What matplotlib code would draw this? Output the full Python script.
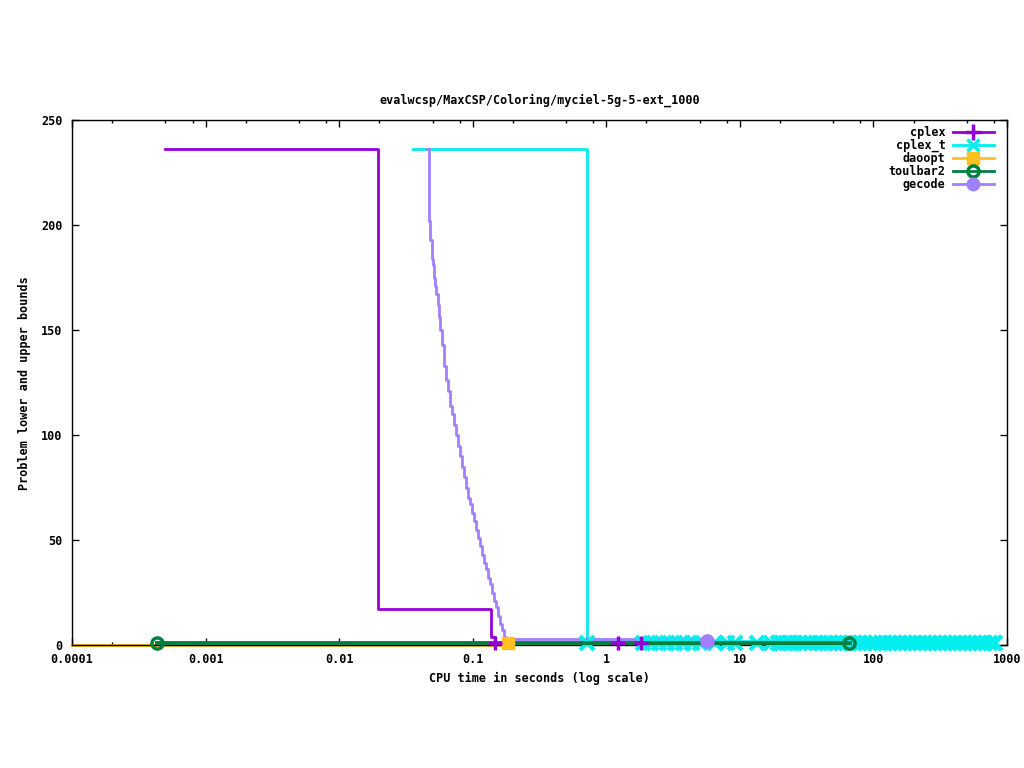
import matplotlib
matplotlib.use("Agg")
import matplotlib.pyplot as plt
import numpy as np
from matplotlib.ticker import LogLocator, FixedLocator, NullFormatter

# ---------------- data ----------------
title = "evalwcsp/MaxCSP/Coloring/myciel-5g-5-ext_1000"
xlabel = "CPU time in seconds (log scale)"
ylabel = "Problem lower and upper bounds"

x_ticks = [0.0001, 0.001, 0.01, 0.1, 1, 10, 100, 1000]
x_tick_labels = ["0.0001", "0.001", "0.01", "0.1", "1", "10", "100", "1000"]
y_ticks = [0, 50, 100, 150, 200, 250]

# cplex upper bound (step) and marked points
cplex_t = [0.0005, 0.0195, 0.0197, 0.137, 0.1466, 1.82]
cplex_v = [236, 18, 17, 4, 1, 1]
cplex_mark_t = [0.1466, 1.22, 1.82]
cplex_mark_v = [1, 1, 1]

# cplex_t upper bound (step) and lower-bound marks
cplex_t_t = [0.0356, 0.716, 820]
cplex_t_v = [236, 2, 2]
cplex_t_mark_t = [0.716, 1.88, 2.16, 2.48, 2.84, 3.26, 3.74, 4.37, 5.02, 6.5, 8.0,
                  9.18, 13.4, 17.1, 19.2, 20, 22, 24, 26, 28, 31, 34, 37, 40, 44,
                  48, 52, 57, 62, 67, 73, 80, 87, 95, 103, 113, 123, 134, 146, 159,
                  173, 189, 206, 225, 245, 267, 291, 317, 346, 377, 411, 448, 488,
                  532, 580, 632, 689, 751, 800, 820]
cplex_t_mark_value = 1

# daoopt
daoopt_t = [0.0001, 0.183]
daoopt_v = [0, 1]

# toulbar2
toulbar2_t = [0.000433, 65.5]
toulbar2_v = [1, 1]

# gecode
gecode_t = [0.04566, 0.04700, 0.04806, 0.04924, 0.05035, 0.05123, 0.05212, 0.05303,
            0.05461, 0.05585, 0.05681, 0.05883, 0.06088, 0.06302, 0.06524, 0.06751,
            0.06988, 0.07234, 0.07487, 0.07749, 0.08021, 0.08303, 0.08594, 0.08896,
            0.09207, 0.09529, 0.09863, 0.1021, 0.1057, 0.1094, 0.1132, 0.1172,
            0.1213, 0.1256, 0.1300, 0.1345, 0.1392, 0.1441, 0.1492, 0.1544, 0.1598,
            0.1654, 0.1712, 0.1772, 0.1834, 5.66]
gecode_v = [236, 202, 193, 184, 181, 175, 171, 167, 162, 156, 150, 143, 133, 126,
            121, 114, 110, 105, 100, 95, 90, 85, 80, 75, 70, 67, 63, 59, 55, 51,
            47, 43, 39, 36, 32, 29, 25, 21, 18, 14, 10, 7, 4, 3, 3, 2]

# ---------------- style ----------------
C_CPLEX = "#9400D3"
C_CPLEXT = "#00EEEE"
C_DAOOPT = "#FFC020"
C_TB2 = "#008040"
C_GECODE = "#A080FF"

FONT = {"family": "DejaVu Sans Mono", "weight": "bold", "size": 8.5}
plt.rcParams["font.family"] = "DejaVu Sans Mono"
plt.rcParams["font.weight"] = "bold"
plt.rcParams["font.size"] = 8.5

fig = plt.figure(figsize=(10.24, 7.68), dpi=100)
ax = fig.add_axes([72 / 1024, (768 - 645) / 768, 935 / 1024, 525 / 768])

LW = 2.0

# cplex
ax.step(cplex_t, cplex_v, where="post", color=C_CPLEX, lw=LW, zorder=2)
ax.plot(cplex_mark_t, cplex_mark_v, ls="none", marker="+", ms=10, mew=2.5,
        color=C_CPLEX, clip_on=False, zorder=6)
# cplex_t
ax.step(cplex_t_t, cplex_t_v, where="post", color=C_CPLEXT, lw=LW, zorder=2)
ax.plot(cplex_t_mark_t, np.full(len(cplex_t_mark_t), cplex_t_mark_value), ls="none",
        marker="x", ms=9.5, mew=3, color=C_CPLEXT, clip_on=False, zorder=3)
# daoopt
ax.step(daoopt_t, daoopt_v, where="post", color=C_DAOOPT, lw=LW, clip_on=False, zorder=2)
ax.plot(daoopt_t[-1:], daoopt_v[-1:], ls="none", marker="s", ms=9, color=C_DAOOPT,
        clip_on=False, zorder=5)
# toulbar2
ax.step(toulbar2_t, toulbar2_v, where="post", color=C_TB2, lw=3.5, zorder=4)
ax.plot(toulbar2_t, toulbar2_v, ls="none", marker="o", ms=8, mew=2.5, mfc="none",
        color=C_TB2, clip_on=False, zorder=5)
# gecode
ax.step(gecode_t, gecode_v, where="post", color=C_GECODE, lw=LW, zorder=2.2)
ax.plot(gecode_t[-1:], gecode_v[-1:], ls="none", marker="o", ms=9.5, color=C_GECODE,
        clip_on=False, zorder=6)

# legend proxies
handles = [
    plt.Line2D([], [], color=C_CPLEX, lw=LW, marker="+", ms=11, mew=2.5),
    plt.Line2D([], [], color=C_CPLEXT, lw=LW, marker="x", ms=9, mew=2.5),
    plt.Line2D([], [], color=C_DAOOPT, lw=LW, marker="s", ms=9),
    plt.Line2D([], [], color=C_TB2, lw=LW, marker="o", ms=8, mew=2.5, mfc="none"),
    plt.Line2D([], [], color=C_GECODE, lw=LW, marker="o", ms=9),
]
labels = ["cplex", "cplex_t", "daoopt", "toulbar2", "gecode"]
leg = ax.legend(handles, labels, loc="upper right", bbox_to_anchor=(0.986, 0.989),
                frameon=False, markerfirst=False, numpoints=1, handlelength=3.5,
                handletextpad=0.6, labelspacing=0.0, borderpad=0, borderaxespad=0,
                prop=FONT)

ax.set_xscale("log")
ax.set_xlim(1e-4, 1e3)
ax.set_ylim(0, 250)
ax.xaxis.set_major_locator(FixedLocator(x_ticks))
ax.set_xticks(x_ticks)
ax.set_xticklabels(x_tick_labels)
ax.xaxis.set_minor_locator(LogLocator(base=10, subs=(2, 5, 8)))
ax.xaxis.set_minor_formatter(NullFormatter())
ax.set_yticks(y_ticks)
ax.set_yticklabels([str(v) for v in y_ticks])

ax.tick_params(which="major", direction="in", length=5, width=1, top=True, right=True,
               labelsize=8.5, pad=6)
ax.tick_params(which="minor", direction="in", length=2.5, width=1, top=True, right=True)
ax.tick_params(axis="y", pad=7)
for s in ax.spines.values():
    s.set_linewidth(1)
    s.set_color("black")

fig.text(539.5 / 1024, 1 - 100 / 768, title, ha="center", va="center", fontdict=FONT)
fig.text(539.5 / 1024, 1 - 678 / 768, xlabel, ha="center", va="center", fontdict=FONT)
fig.text(25 / 1024, 1 - 383 / 768, ylabel, ha="center", va="center", rotation=90,
         fontdict=FONT)

fig.savefig("out.png", dpi=100)
